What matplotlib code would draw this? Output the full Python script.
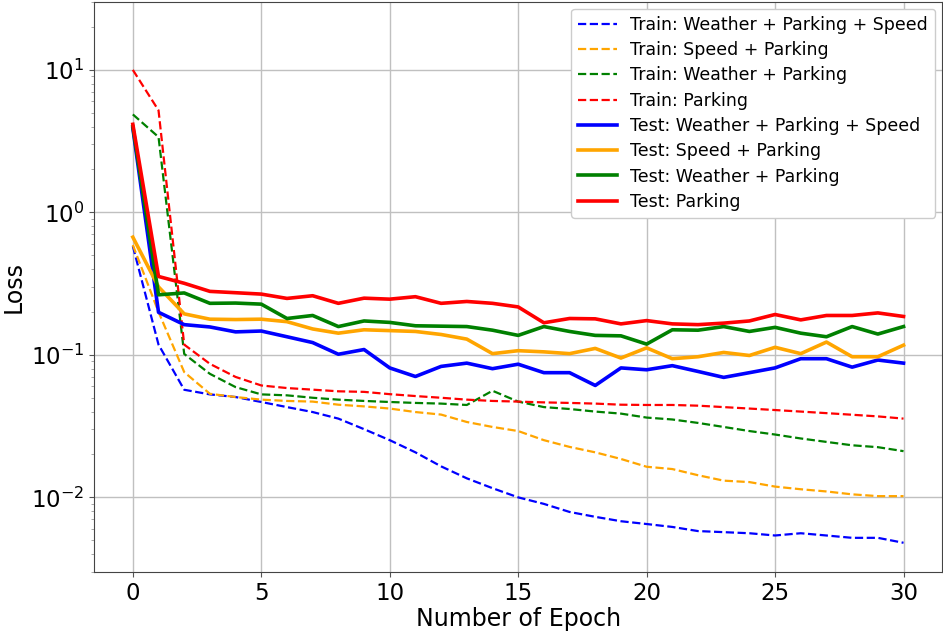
import numpy as np
import matplotlib
matplotlib.use("Agg")
import matplotlib.pyplot as plt

epochs = np.arange(31)

# train losses (dashed)
train_wps = [0.58, 0.118, 0.0569, 0.0528, 0.0506, 0.0467, 0.043, 0.0397, 0.0357, 0.0301,
             0.0252, 0.0207, 0.0165, 0.0136, 0.0116, 0.0100, 0.0090, 0.0079, 0.0073, 0.0068,
             0.0065, 0.0062, 0.0058, 0.0057, 0.0056, 0.0054, 0.0056, 0.0054, 0.0052, 0.0052,
             0.0048]
train_sp = [0.59, 0.20, 0.0757, 0.0533, 0.0506, 0.0485, 0.0475, 0.047, 0.0447, 0.0435,
            0.042, 0.0397, 0.0381, 0.0338, 0.0312, 0.0292, 0.0252, 0.0226, 0.0207, 0.0186,
            0.0164, 0.0158, 0.0143, 0.0131, 0.0128, 0.0119, 0.0114, 0.0110, 0.0105, 0.0102,
            0.0102]
train_wp = [4.87, 3.38, 0.1015, 0.0736, 0.0594, 0.0528, 0.052, 0.050, 0.0485, 0.0475,
            0.0467, 0.046, 0.0455, 0.0445, 0.056, 0.047, 0.043, 0.0417, 0.040, 0.0387,
            0.0363, 0.0352, 0.0333, 0.0312, 0.0292, 0.0276, 0.0259, 0.0245, 0.0232, 0.0225,
            0.0211]
train_p = [10.0, 5.2, 0.118, 0.0865, 0.070, 0.061, 0.0585, 0.057, 0.0555, 0.055,
           0.053, 0.0514, 0.050, 0.0485, 0.0475, 0.047, 0.0464, 0.046, 0.0455, 0.0447,
           0.0445, 0.0445, 0.044, 0.043, 0.042, 0.041, 0.040, 0.039, 0.038, 0.037,
           0.0357]

# test losses (solid)
test_wps = [3.9, 0.199, 0.163, 0.157, 0.145, 0.147, 0.134, 0.122, 0.101, 0.109,
            0.081, 0.0705, 0.083, 0.0875, 0.080, 0.086, 0.075, 0.075, 0.061, 0.081,
            0.0786, 0.084, 0.0765, 0.0695, 0.075, 0.081, 0.094, 0.094, 0.082, 0.092,
            0.0875]
test_sp = [0.67, 0.30, 0.194, 0.178, 0.177, 0.178, 0.171, 0.152, 0.142, 0.150,
           0.148, 0.146, 0.139, 0.129, 0.102, 0.107, 0.105, 0.102, 0.111, 0.095,
           0.112, 0.094, 0.097, 0.104, 0.099, 0.113, 0.102, 0.123, 0.097, 0.097,
           0.117]
test_wp = [4.0, 0.264, 0.272, 0.230, 0.231, 0.227, 0.180, 0.189, 0.158, 0.173,
           0.169, 0.160, 0.159, 0.158, 0.149, 0.137, 0.158, 0.146, 0.137, 0.136,
           0.119, 0.150, 0.149, 0.158, 0.146, 0.156, 0.142, 0.134, 0.158, 0.140,
           0.158]
test_p = [4.15, 0.355, 0.318, 0.279, 0.273, 0.267, 0.249, 0.260, 0.230, 0.250,
          0.246, 0.256, 0.230, 0.237, 0.230, 0.217, 0.168, 0.180, 0.179, 0.165,
          0.174, 0.165, 0.163, 0.167, 0.173, 0.192, 0.176, 0.189, 0.189, 0.197,
          0.186]

names = ['Weather + Parking + Speed', 'Speed + Parking', 'Weather + Parking', 'Parking']
colors = ['blue', 'orange', 'green', 'red']
train = [train_wps, train_sp, train_wp, train_p]
test = [test_wps, test_sp, test_wp, test_p]

fig, ax = plt.subplots(figsize=(9.43, 6.34), dpi=100)

for name, c, vals in zip(names, colors, train):
    ax.plot(epochs, vals, '--', color=c, lw=1.6, label='Train: ' + name)
for name, c, vals in zip(names, colors, test):
    ax.plot(epochs, vals, '-', color=c, lw=2.6, label='Test: ' + name)

ax.set_yscale('log')
ax.set_ylim(0.003, 30)
ax.set_xlim(-1.5, 31.5)
ax.grid(True, color='#c0c0c0', lw=1.0)
ax.set_axisbelow(True)
ax.tick_params(labelsize=16.5, colors='#555555', labelcolor='black')
ax.tick_params(which='minor', colors='#999999')
for s in ax.spines.values():
    s.set_color('#444444')

ax.set_xlabel('Number of Epoch', fontsize=17, labelpad=2)
ax.set_ylabel('Loss', fontsize=17)
ax.legend(loc='upper right', fontsize=12.5, framealpha=1, handlelength=2.2,
          labelspacing=0.42, borderaxespad=0.4)

plt.subplots_adjust(left=0.1, right=0.999, top=0.997, bottom=0.098)
plt.savefig('out.png')
